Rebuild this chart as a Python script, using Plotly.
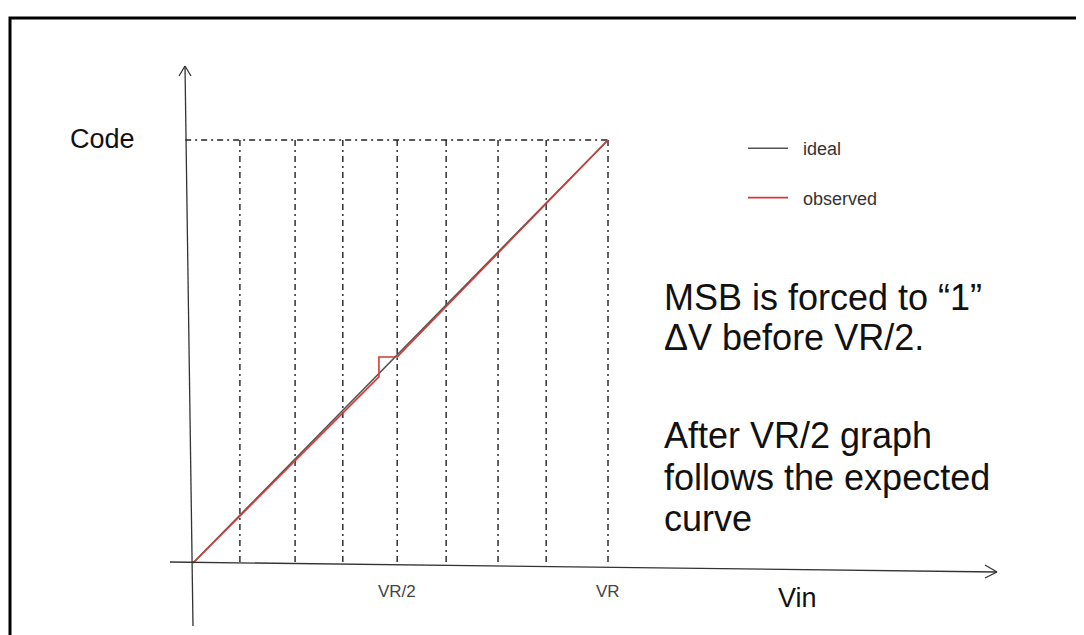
import plotly.graph_objects as go

W, H = 1084, 635
OFF = 8  # the page body margin shifts the figure by 8 px

# ---- data (Vin as a fraction of VR, Code as a fraction of full scale) ----
grid_vin = [0.113, 0.246, 0.361, 0.492, 0.610, 0.735, 0.851, 1.0]
ideal_vin = [0.0, 1.0]
ideal_code = [0.0, 1.0]
observed_vin = [0.0, 0.448, 0.448, 0.492, 1.0]
observed_code = [0.0, 0.440, 0.487, 0.487, 1.0]
tick_vals = [0.492, 1.0]
tick_labels = ["VR/2", "VR"]
series_names = ["ideal", "observed"]
note_lines = ["MSB is forced to \u201c1\u201d", "\u0394V before VR/2.", "",
              "After VR/2 graph", "follows the expected", "curve"]

FONT = "Liberation Sans, Arial, sans-serif"

# pixel helpers for decorations (page pixel -> paper fraction)
def px(p):
    return (p - OFF) / W

def py(p):
    return 1 - (p - OFF) / H

X0, Y0, XS, YS = 193 - OFF, 563 - OFF, 415, 423

# ---- grid (dash-dot) built from the data ----
gx, gy = [], []
for v in grid_vin:
    gx += [v, v, None]
    gy += [1.0, 0.0, None]
gx += [-0.019, 1.0]
gy += [1.0, 1.0]

PAD = "\u00a0\u00a0"  # extra gap between legend sample and label

fig = go.Figure()
fig.add_trace(go.Scatter(x=gx, y=gy, mode="lines", showlegend=False, hoverinfo="skip",
                         line=dict(color="#222222", width=1.4, dash="6px,4px,2px,4px")))
fig.add_trace(go.Scatter(x=ideal_vin, y=ideal_code, mode="lines", name=PAD + series_names[0],
                         legendgroup="a",
                         line=dict(color="#555555", width=1.6)))
fig.add_trace(go.Scatter(x=observed_vin, y=observed_code, mode="lines",
                         name=PAD + series_names[1], legendgroup="b",
                         line=dict(color="#d23a36", width=1.6)))

shapes = []
# frame
shapes.append(dict(type="rect", xref="paper", yref="paper", x0=px(10), x1=px(1100),
                   y0=py(18), y1=py(660), line=dict(color="black", width=3)))
ax_line = dict(color="#333333", width=1.3)
# y axis with arrow
shapes.append(dict(type="line", xref="paper", yref="paper", x0=px(193), y0=py(626),
                   x1=px(185), y1=py(66), line=ax_line))
shapes.append(dict(type="line", xref="paper", yref="paper", x0=px(179), y0=py(76),
                   x1=px(185), y1=py(66), line=ax_line))
shapes.append(dict(type="line", xref="paper", yref="paper", x0=px(191), y0=py(76),
                   x1=px(185), y1=py(66), line=ax_line))
# x axis with arrow
shapes.append(dict(type="line", xref="paper", yref="paper", x0=px(170), y0=py(562),
                   x1=px(997), y1=py(572), line=ax_line))
shapes.append(dict(type="line", xref="paper", yref="paper", x0=px(985), y0=py(565),
                   x1=px(997), y1=py(572), line=ax_line))
shapes.append(dict(type="line", xref="paper", yref="paper", x0=px(985), y0=py(578),
                   x1=px(997), y1=py(572), line=ax_line))

annotations = []
# tick labels
for v, t in zip(tick_vals, tick_labels):
    annotations.append(dict(x=v, y=py(591), xref="x", yref="paper", text=t, showarrow=False,
                            xanchor="center", yanchor="middle",
                            font=dict(family=FONT, size=17, color="#444444")))
# axis titles
annotations.append(dict(x=px(68), y=py(139), xref="paper", yref="paper", text="Code",
                        showarrow=False, xanchor="left", yanchor="middle",
                        font=dict(family=FONT, size=27, color="#111111")))
annotations.append(dict(x=px(776), y=py(598), xref="paper", yref="paper", text="Vin",
                        showarrow=False, xanchor="left", yanchor="middle",
                        font=dict(family=FONT, size=27, color="#111111")))
# note text
baselines = [309, 349, None, 447, 489, 531]
for line, b in zip(note_lines, baselines):
    if not line:
        continue
    annotations.append(dict(x=px(662), y=py(b - 12), xref="paper", yref="paper", text=line,
                            showarrow=False, xanchor="left", yanchor="middle",
                            font=dict(family=FONT, size=36, color="#111111")))

fig.update_layout(
    width=W, height=H, margin=dict(l=0, r=0, t=0, b=0),
    paper_bgcolor="white", plot_bgcolor="white",
    xaxis=dict(range=[-X0 / XS, (W - X0) / XS], visible=False),
    yaxis=dict(range=[(Y0 - H) / YS, Y0 / YS], visible=False),
    shapes=shapes, annotations=annotations,
    showlegend=True,
    legend=dict(x=px(743), y=py(130), xanchor="left", yanchor="top",
                bgcolor="rgba(0,0,0,0)", itemwidth=40, tracegroupgap=23,
                font=dict(family=FONT, size=18, color="#333333")),
)

fig.write_html("out.html")
